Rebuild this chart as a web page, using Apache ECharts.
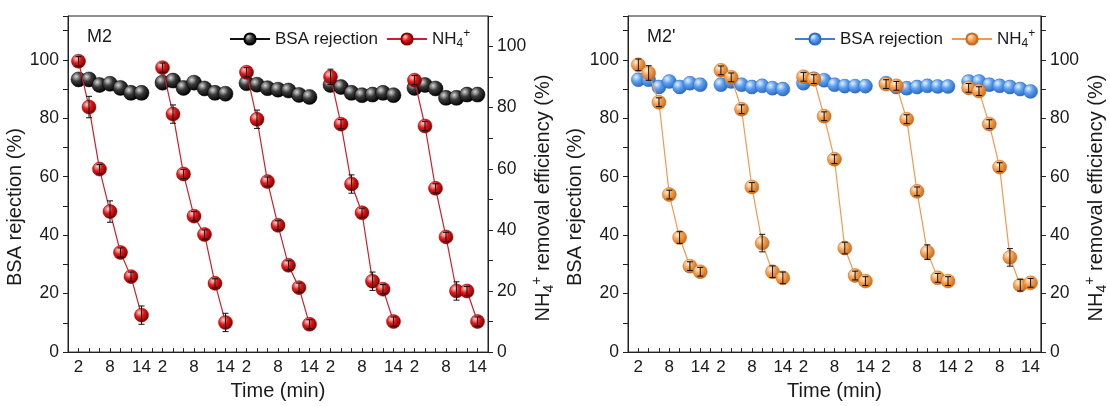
<!DOCTYPE html>
<html>
<head>
<meta charset="utf-8">
<script src="https://cdn.jsdelivr.net/npm/echarts@6/dist/echarts.min.js"></script>
<style>html,body{margin:0;padding:0;background:#fff}#c{width:1110px;height:406px}</style>
</head>
<body>
<div id="c"></div>
<script>
// ---- data ----
const cycleTimes = [2, 4, 6, 8, 10, 12, 14];   // sampling times within a cycle (min)
const cycleLength = 16;                        // axis length of one cycle (min)
const labelTimes = [2, 8, 14];                 // tick labels shown per cycle

const m2Bsa = [
  [93.3, 93.3, 91.4, 91.8, 90.4, 88.7, 88.7],
  [92.2, 92.9, 90.4, 92.2, 90.2, 88.7, 88.4],
  [92.0, 91.5, 90.3, 89.8, 89.5, 88.0, 87.3],
  [91.4, 90.7, 88.7, 87.9, 88.1, 88.7, 87.9],
  [90.4, 91.4, 90.2, 87.0, 87.0, 88.1, 88.1]
];
const m2BsaErr = [
  [1, 1, 1, 1, 1, 1, 1], [1, 1, 1, 1, 1, 1, 1], [1, 1, 1, 1, 1, 1, 1],
  [1, 1, 1, 1, 1, 1, 1], [1, 1, 1, 1, 1, 1, 1]
];
const m2Nh4 = [
  [95.2, 80.2, 59.9, 46.0, 32.6, 24.7, 12.1],
  [93.1, 77.9, 58.3, 44.5, 38.5, 22.5, 9.7],
  [91.6, 76.2, 55.8, 41.5, 28.4, 21.1, 9.1],
  [90.1, 74.6, 55.0, 45.6, 23.2, 20.6, 10.0],
  [89.0, 74.0, 53.6, 37.7, 20.0, 20.0, 10.0]
];
const m2Nh4Err = [
  [1.5, 3.5, 1.5, 3.5, 1.5, 1.5, 3.0],
  [1.5, 3.0, 1.5, 1.5, 1.5, 1.5, 3.0],
  [1.5, 3.0, 1.5, 1.5, 1.5, 1.5, 1.5],
  [2.5, 1.5, 3.0, 1.5, 3.0, 1.5, 1.5],
  [1.5, 1.5, 1.5, 1.5, 3.0, 1.5, 1.5]
];
const m2pBsa = [
  [93.2, 93.2, 90.7, 92.6, 90.7, 92.0, 91.5],
  [91.5, 92.6, 91.5, 90.7, 91.1, 90.3, 90.0],
  [92.0, 93.5, 93.0, 91.5, 91.0, 91.0, 91.0],
  [92.0, 90.7, 90.3, 90.7, 91.1, 90.9, 90.9],
  [92.6, 92.6, 91.5, 91.1, 90.7, 90.0, 89.2]
];
const m2pBsaErr = [
  [2, 2, 2, 2, 2, 2, 2], [2, 2, 2, 2, 2, 2, 2], [2, 2, 2, 2, 2, 2, 2],
  [2, 2, 2, 2, 2, 2, 2], [2, 2, 2, 2, 2, 2, 2]
];
const m2pNh4 = [
  [98.3, 95.5, 85.5, 53.9, 39.2, 29.4, 27.5],
  [96.4, 94.0, 83.1, 56.5, 37.3, 27.5, 25.4],
  [94.2, 93.4, 80.7, 66.0, 35.6, 26.2, 24.3],
  [91.7, 91.1, 79.7, 55.0, 34.2, 25.4, 24.3],
  [90.4, 89.3, 78.0, 63.3, 32.4, 22.9, 23.7]
];
const m2pNh4Err = [
  [2.0, 2.5, 1.5, 1.5, 2.0, 1.5, 1.5],
  [1.5, 1.5, 1.5, 1.5, 3.0, 2.0, 2.0],
  [1.5, 1.5, 1.5, 1.5, 2.0, 1.5, 1.5],
  [1.5, 1.5, 1.5, 1.5, 2.5, 1.5, 1.5],
  [1.5, 1.5, 1.5, 1.5, 3.0, 2.0, 1.5]
];

// ---- helpers ----
function lineData(cycles) {
  const out = [];
  cycles.forEach((vals, c) => {
    vals.forEach((v, i) => out.push([c * cycleLength + cycleTimes[i], v]));
    if (c < cycles.length - 1) out.push([c * cycleLength + cycleTimes[cycleTimes.length - 1] + 1, '-']);
  });
  return out;
}
function errData(cycles, errs) {
  const out = [];
  cycles.forEach((vals, c) => vals.forEach((v, i) => out.push([c * cycleLength + cycleTimes[i], v, errs[c][i]])));
  return out;
}
function ball(light, mid, dark) {
  return { type: 'radial', x: 0.35, y: 0.32, r: 0.7,
    colorStops: [{ offset: 0, color: light }, { offset: 0.45, color: mid }, { offset: 1, color: dark }] };
}
function errRender(params, api) {
  const x = api.value(0), y = api.value(1), e = api.value(2);
  const t = api.coord([x, y + e]), b = api.coord([x, y - e]);
  const st = { stroke: '#111', lineWidth: 1 };
  return { type: 'group', children: [
    { type: 'line', shape: { x1: t[0], y1: t[1], x2: b[0], y2: b[1] }, style: st },
    { type: 'line', shape: { x1: t[0] - 3, y1: t[1], x2: t[0] + 3, y2: t[1] }, style: st },
    { type: 'line', shape: { x1: b[0] - 3, y1: b[1], x2: b[0] + 3, y2: b[1] }, style: st }
  ] };
}

const FONT = '"Liberation Sans", Arial, sans-serif';
const TXT = '#1a1a1a';
const rich = {
  sub: { fontSize: 12, fontFamily: FONT, color: TXT, verticalAlign: 'bottom', lineHeight: 22 },
  sup: { fontSize: 12, fontFamily: FONT, color: TXT, verticalAlign: 'top', lineHeight: 22 }
};
const nameRich = {
  sub: { fontSize: 14, fontFamily: FONT, color: TXT, verticalAlign: 'bottom', lineHeight: 26 },
  sup: { fontSize: 14, fontFamily: FONT, color: TXT, verticalAlign: 'top', lineHeight: 26 }
};

const grids = [
  { left: 68, right: 622, top: 16, bottom: 52 },
  { left: 628, right: 62, top: 16, bottom: 52 }
];

function xAx(gi) {
  return {
    type: 'value', gridIndex: gi, min: 0, max: 80, interval: 2,
    name: 'Time (min)', nameLocation: 'middle', nameGap: 27,
    nameTextStyle: { fontSize: 20, fontFamily: FONT, color: TXT },
    axisLine: { show: true, onZero: false, lineStyle: { color: '#222', width: 1 } },
    axisTick: { show: true, inside: true, length: 4, lineStyle: { color: '#222' } },
    splitLine: { show: false },
    axisLabel: { fontSize: 17, fontFamily: FONT, color: TXT, margin: 7,
      formatter: v => { const m = v % cycleLength; return labelTimes.includes(m) ? String(m) : ''; } }
  };
}
function yAx(gi, pos, max, name, gap, shift) {
  return {
    type: 'value', gridIndex: gi, position: pos, min: 0, max: max, interval: 10,
    name: name, nameLocation: 'middle', nameGap: gap,
    nameTextStyle: { fontSize: 20, fontFamily: FONT, color: TXT, rich: nameRich, padding: [0, shift, 0, 0] },
    axisLine: { show: true, onZero: false, lineStyle: { color: '#222', width: 1 } },
    axisTick: { show: true, inside: false, length: 5, lineStyle: { color: '#222' } },
    splitLine: { show: false },
    axisLabel: { fontSize: 17.5, fontFamily: FONT, color: TXT, margin: 9,
      formatter: v => (v % 20 === 0 ? String(v) : '') }
  };
}

const nh4Name = 'NH{sub|4}{sup|+} removal efficiency (%)';

const option = {
  animation: false,
  backgroundColor: '#fff',
  grid: grids.map(g => Object.assign({ show: true, borderColor: '#222', borderWidth: 1, backgroundColor: 'transparent' }, g)),
  title: [
    { text: 'M2', left: 82, top: 23, textStyle: { fontSize: 18, fontWeight: 'normal', fontFamily: FONT, color: TXT } },
    { text: "M2'", left: 642, top: 23, textStyle: { fontSize: 18, fontWeight: 'normal', fontFamily: FONT, color: TXT } }
  ],
  legend: [
    { data: ['M2 BSA', 'M2 NH4'], left: 224, top: 23, itemWidth: 40, itemHeight: 14, itemGap: 8,
      formatter: n => (n.endsWith('BSA') ? 'BSA rejection' : 'NH{sub|4}{sup|+}'),
      textStyle: { fontSize: 17, fontFamily: FONT, color: TXT, rich: rich } },
    { data: ["M2' BSA", "M2' NH4"], left: 789, top: 23, itemWidth: 40, itemHeight: 14, itemGap: 8,
      formatter: n => (n.endsWith('BSA') ? 'BSA rejection' : 'NH{sub|4}{sup|+}'),
      textStyle: { fontSize: 17, fontFamily: FONT, color: TXT, rich: rich } }
  ],
  xAxis: [xAx(0), xAx(1)],
  yAxis: [
    yAx(0, 'left', 115, 'BSA rejection (%)', 35, 46),
    yAx(0, 'right', 110, nh4Name, 37, 28),
    yAx(1, 'left', 115, 'BSA rejection (%)', 30, 46),
    yAx(1, 'right', 115, nh4Name, 38, 28)
  ],
  series: [
    { name: 'M2 BSA', type: 'line', xAxisIndex: 0, yAxisIndex: 0, data: lineData(m2Bsa),
      symbol: 'circle', symbolSize: 15, connectNulls: false,
      lineStyle: { color: '#111', width: 1 },
      itemStyle: { color: ball('#d8d8d8', '#3a3a3a', '#000'), borderColor: '#000', borderWidth: 0.5 } },
    { type: 'custom', xAxisIndex: 0, yAxisIndex: 0, renderItem: errRender, data: errData(m2Bsa, m2BsaErr), z: 3, silent: true },
    { name: 'M2 NH4', type: 'line', xAxisIndex: 0, yAxisIndex: 1, data: lineData(m2Nh4),
      symbol: 'circle', symbolSize: 14, connectNulls: false, z: 4,
      lineStyle: { color: '#c8202c', width: 1.2 },
      itemStyle: { color: ball('#ffd0d0', '#e01818', '#7a0000'), borderColor: '#8a0000', borderWidth: 0.5 } },
    { type: 'custom', xAxisIndex: 0, yAxisIndex: 1, renderItem: errRender, data: errData(m2Nh4, m2Nh4Err), z: 5, silent: true },

    { name: "M2' BSA", type: 'line', xAxisIndex: 1, yAxisIndex: 2, data: lineData(m2pBsa),
      symbol: 'circle', symbolSize: 14, connectNulls: false,
      lineStyle: { color: '#3d7fd8', width: 1 },
      itemStyle: { color: ball('#e6f2ff', '#5c9ff0', '#2a68c0'), borderColor: '#2f6dc0', borderWidth: 0.5 } },
    { type: 'custom', xAxisIndex: 1, yAxisIndex: 2, renderItem: errRender, data: errData(m2pBsa, m2pBsaErr), z: 3, silent: true },
    { name: "M2' NH4", type: 'line', xAxisIndex: 1, yAxisIndex: 3, data: lineData(m2pNh4),
      symbol: 'circle', symbolSize: 14, connectNulls: false, z: 4,
      lineStyle: { color: '#f09a50', width: 1.2 },
      itemStyle: { color: ball('#fff0dc', '#f5a04e', '#c8691c'), borderColor: '#c86a20', borderWidth: 0.5 } },
    { type: 'custom', xAxisIndex: 1, yAxisIndex: 3, renderItem: errRender, data: errData(m2pNh4, m2pNh4Err), z: 5, silent: true }
  ]
};

const chart = echarts.init(document.getElementById('c'), null, { renderer: 'canvas' });
chart.setOption(option);
</script>
</body>
</html>
